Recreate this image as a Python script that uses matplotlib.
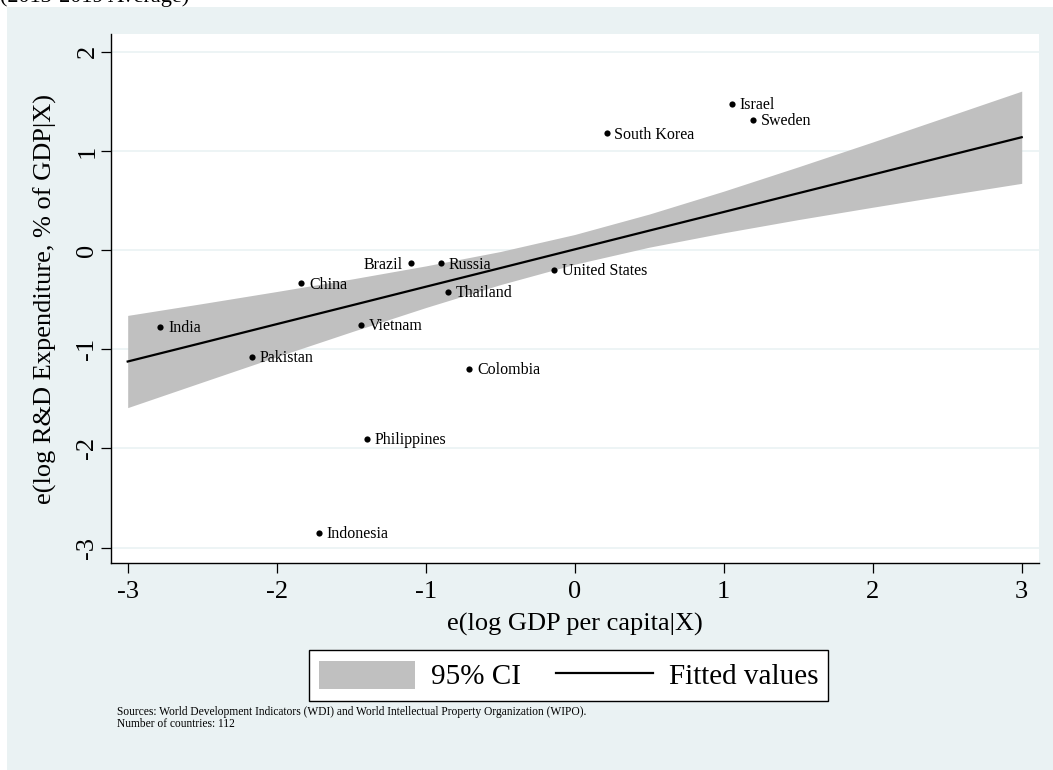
import matplotlib
matplotlib.use("Agg")
import matplotlib.pyplot as plt
from matplotlib.patches import Patch, Rectangle
from matplotlib.lines import Line2D

plt.rcParams['font.family'] = ['Liberation Serif', 'DejaVu Serif']

# partial regression residuals
countries = ["Israel", "Sweden", "South Korea", "United States", "Brazil", "Russia",
             "Thailand", "China", "India", "Vietnam", "Pakistan", "Colombia",
             "Philippines", "Indonesia"]
gdp_resid = [1.057, 1.199, 0.215, -0.139, -1.099, -0.897,
             -0.848, -1.835, -2.78, -1.432, -2.166, -0.707,
             -1.394, -1.716]
rd_resid = [1.474, 1.313, 1.178, -0.20, -0.132, -0.132,
            -0.418, -0.334, -0.771, -0.751, -1.074, -1.20,
            -1.903, -2.854]
left_labels = ["Brazil"]

# fitted line and 95% CI band
fit_x = [-3, -2.5, -2, -1.5, -1, -0.5, 0, 0.5, 1, 1.5, 2, 2.5, 3]
fit_y = [-1.124, -0.936, -0.747, -0.559, -0.370, -0.182, 0.007,
         0.196, 0.384, 0.573, 0.761, 0.950, 1.138]
ci_high = [-0.659, -0.540, -0.418, -0.293, -0.160, -0.015, 0.157,
           0.363, 0.594, 0.839, 1.090, 1.346, 1.603]
ci_low = [-1.589, -1.332, -1.076, -0.825, -0.580, -0.349, -0.143,
          0.029, 0.174, 0.307, 0.432, 0.554, 0.673]

xticks = [-3, -2, -1, 0, 1, 2, 3]
yticks = [-3, -2, -1, 0, 1, 2]

bg = '#EAF2F3'
band = '#C0C0C0'

W, H = 1053, 770
fig = plt.figure(figsize=(W / 100, H / 100), dpi=100, facecolor='white')
fig.patches.append(Rectangle((7 / W, 0), 1, (H - 7) / H, transform=fig.transFigure,
                             facecolor=bg, edgecolor='none', zorder=-10))
# title mostly cut off at the top of the image
fig.text(0, 1 - 2 / H, "(2013-2019 Average)", fontsize=16, va='baseline', ha='left')

ax = fig.add_axes([111 / W, (H - 563) / H, (1039 - 111) / W, (563 - 34) / H])
ax.set_facecolor('white')
ax.set_axisbelow(True)
ax.grid(axis='y', color=bg, linewidth=1.2)
ax.grid(axis='x', visible=False)

ax.fill_between(fit_x, ci_low, ci_high, color=band, linewidth=0, zorder=2)
ax.plot(fit_x, fit_y, color='black', linewidth=1.6, zorder=3)
ax.scatter(gdp_resid, rd_resid, s=20, color='black', zorder=4, linewidths=0)

for name, x, y in zip(countries, gdp_resid, rd_resid):
    if name in left_labels:
        ax.annotate(name, (x, y), xytext=(-6, -1), textcoords='offset points',
                    ha='right', va='center', fontsize=11.5, zorder=5)
    else:
        ax.annotate(name, (x, y), xytext=(5.5, -1), textcoords='offset points',
                    ha='left', va='center', fontsize=11.5, zorder=5)

ax.set_xlim(-3.112, 3.116)
ax.set_ylim(-3.156, 2.179)
ax.set_xticks(xticks)
ax.set_yticks(yticks)
ax.set_xticklabels([str(t) for t in xticks])
ax.set_yticklabels([str(t) for t in yticks], rotation=90, va='center')
ax.tick_params(axis='both', direction='out', length=7, width=0.9, labelsize=19, colors='black')
ax.tick_params(axis='x', pad=6)
ax.tick_params(axis='y', pad=2)
for s in ['top', 'right']:
    ax.spines[s].set_visible(False)
for s in ['left', 'bottom']:
    ax.spines[s].set_linewidth(1.0)

ax.set_xlabel("e(log GDP per capita|X)", fontsize=19, labelpad=7)
ax.set_ylabel("e(log R&D Expenditure, % of GDP|X)", fontsize=19, labelpad=14)

handles = [Patch(facecolor=band, edgecolor='none'), Line2D([], [], color='black', linewidth=1.6)]
leg = fig.legend(handles, ['95% CI', 'Fitted values'], loc='center',
                 bbox_to_anchor=(568.5 / W, 1 - 675.5 / H), ncol=2, frameon=True,
                 fancybox=False, edgecolor='black', framealpha=1, facecolor='white',
                 fontsize=21, handlelength=3.3, handleheight=1.1, columnspacing=1.2,
                 borderpad=0.35, handletextpad=0.55)
leg.get_frame().set_linewidth(1.0)

fig.text(117 / W, 1 - 727 / H,
         "Sources: World Development Indicators (WDI) and World Intellectual Property Organization (WIPO).\n"
         "Number of countries: 112",
         fontsize=8.3, va='baseline', ha='left', linespacing=1.0)

fig.savefig("out.png", dpi=100, facecolor=fig.get_facecolor())
